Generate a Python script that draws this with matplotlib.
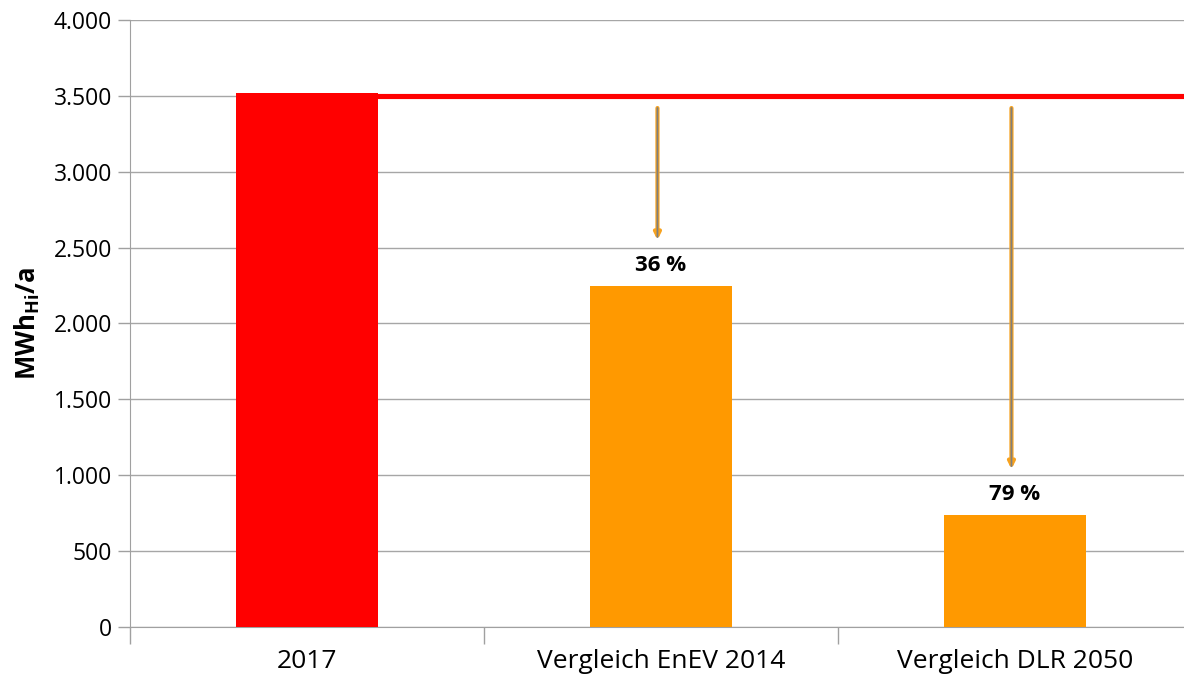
import matplotlib
matplotlib.use("Agg")
import matplotlib.pyplot as plt
from matplotlib.ticker import FuncFormatter

plt.rcParams['font.family'] = ['Open Sans', 'DejaVu Sans']
plt.rcParams['mathtext.fontset'] = 'custom'
plt.rcParams['mathtext.bf'] = 'Open Sans:bold'
plt.rcParams['mathtext.rm'] = 'Open Sans'

categories = ['2017', 'Vergleich EnEV 2014', 'Vergleich DLR 2050']
values = [3520, 2250, 740]
bar_colors = ['#ff0000', '#ff9900', '#ff9900']
reference = 3500
reductions = ['', '36 %', '79 %']

fig = plt.figure(figsize=(11.84, 6.79), dpi=100)
ax = fig.add_axes([130 / 1184, 52 / 679, 1062 / 1184, 607 / 679])

x = range(len(categories))
ax.bar(x, values, width=0.4, color=bar_colors, zorder=3)

# reference line from the 2017 bar to the right edge
ax.plot([0, 2.5], [reference, reference], color='#ff0000', lw=3.7, zorder=2,
        solid_capstyle='butt')

# reduction arrows and labels
for i in range(1, len(values)):
    ax.annotate('', xy=(i - 0.01, values[i] + 300), xytext=(i - 0.01, reference - 80),
                arrowprops=dict(arrowstyle='-|>', color='#f7a21e', lw=3,
                                mutation_scale=9, shrinkA=0, shrinkB=0),
                zorder=4)
    ax.annotate('', xy=(i - 0.01, values[i] + 320), xytext=(i - 0.01, reference - 80),
                arrowprops=dict(arrowstyle='-', color='#7f7f7f', lw=1.3,
                                shrinkA=0, shrinkB=0),
                zorder=5)
    ax.text(i, values[i] + 65, reductions[i], ha='center', va='bottom',
            fontsize=16, fontweight='bold', zorder=5)

ax.set_xlim(-0.5, 2.5)
ax.set_ylim(0, 4000)
ax.set_yticks(range(0, 4001, 500))
ax.yaxis.set_major_formatter(FuncFormatter(lambda v, p: f"{int(v):,}".replace(',', '.')))
ax.set_xticks(list(x))
ax.set_xticklabels(categories, fontsize=19)
ax.set_xticks([-0.5, 0.5, 1.5, 2.5], minor=True)
ax.tick_params(axis='x', which='major', length=0, pad=16)
ax.tick_params(axis='x', which='minor', length=12, color='#a0a0a0', width=1)
ax.tick_params(axis='y', labelsize=16.5, length=9, color='#a0a0a0', width=1, pad=4)

ax.grid(axis='y', color='#a6a6a6', lw=1, zorder=0)
for side in ['top', 'right']:
    ax.spines[side].set_visible(False)
for side in ['left', 'bottom']:
    ax.spines[side].set_color('#a0a0a0')

ax.set_ylabel(r'$\mathbf{MWh_{Hi}/a}$', fontsize=18.5, labelpad=8)

fig.savefig('out.png', dpi=100)
